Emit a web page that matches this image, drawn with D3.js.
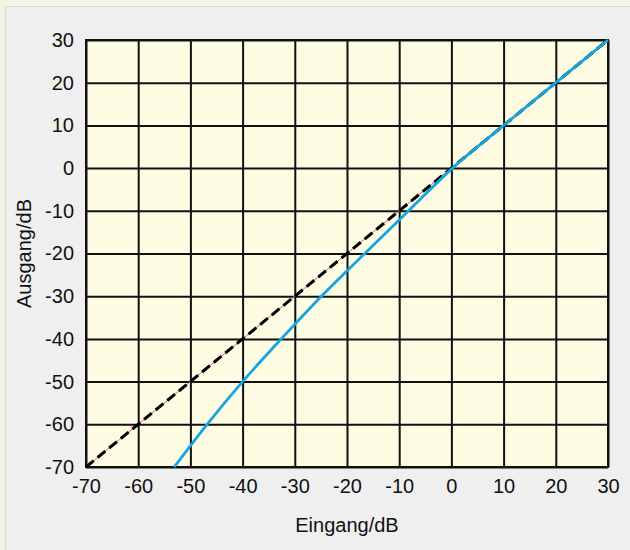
<!DOCTYPE html>
<html>
<head>
<meta charset="utf-8">
<script src="https://cdn.jsdelivr.net/npm/d3@7"></script>
<style>
  body { margin: 0; background: #f1f5e6; }
  svg { display: block; }
</style>
</head>
<body>
<script>
// y = x reference line and the blue transfer curve (input dB -> output dB)
const refInput = [-70, 30];
const curveInput = [-53.1, -46.8, -40, -32.6, -24.9, -16.6, -8.2, 0.2, 10, 20, 30];
const curveOutput = [-70, -60, -50, -40, -30, -20, -10, 0, 10, 20, 30];
const xTicks = [-70, -60, -50, -40, -30, -20, -10, 0, 10, 20, 30];
const yTicks = [-70, -60, -50, -40, -30, -20, -10, 0, 10, 20, 30];

const W = 630, H = 550;
const margin = { top: 40, right: 22, bottom: 83, left: 86 };
const width = W - margin.left - margin.right;
const height = H - margin.top - margin.bottom;

const svg = d3.select("body").append("svg")
  .attr("width", W)
  .attr("height", H);

// panel behind the chart
svg.append("rect")
  .attr("x", 5.5).attr("y", 6.5)
  .attr("width", W).attr("height", H)
  .attr("fill", "#efefef")
  .attr("stroke", "#e8d2d2");

const g = svg.append("g")
  .attr("transform", `translate(${margin.left},${margin.top})`);

const x = d3.scaleLinear().domain([-70, 30]).range([0, width]);
const y = d3.scaleLinear().domain([-70, 30]).range([height, 0]);

g.append("rect")
  .attr("width", width).attr("height", height)
  .attr("fill", "#fdfbe2");

const font = "Liberation Sans, Arial, Helvetica, sans-serif";
const fmt = d => String(d);

const xAxis = g.append("g")
  .attr("transform", `translate(0,${height})`)
  .call(d3.axisBottom(x).tickValues(xTicks).tickFormat(fmt)
    .tickSizeInner(-height).tickSizeOuter(0).tickPadding(11.5));
const yAxis = g.append("g")
  .call(d3.axisLeft(y).tickValues(yTicks).tickFormat(fmt)
    .tickSizeInner(-width).tickSizeOuter(0).tickPadding(12));

[xAxis, yAxis].forEach(a => {
  a.select(".domain").remove();
  a.selectAll(".tick line").attr("stroke", "#111").attr("stroke-width", 2);
  a.selectAll(".tick text")
    .attr("fill", "#111")
    .style("font-family", font)
    .style("font-size", "20px");
});

g.append("rect")
  .attr("width", width).attr("height", height)
  .attr("fill", "none")
  .attr("stroke", "#111")
  .attr("stroke-width", 2);

// reference line: thin pink under black dashes
const ref = refInput.map(v => [v, v]);
const line = d3.line().x(d => x(d[0])).y(d => y(d[1]));

g.append("path")
  .datum(ref)
  .attr("fill", "none")
  .attr("stroke", "#e0559a")
  .attr("stroke-width", 1)
  .attr("d", line);

g.append("path")
  .datum(ref)
  .attr("fill", "none")
  .attr("stroke", "#000")
  .attr("stroke-width", 3)
  .attr("stroke-dasharray", "10,5")
  .attr("d", line);

const curve = curveInput.map((v, i) => [v, curveOutput[i]]);
g.append("path")
  .datum(curve)
  .attr("fill", "none")
  .attr("stroke", "#15a5e0")
  .attr("stroke-width", 2.8)
  .attr("d", line.curve(d3.curveMonotoneX));

svg.append("text")
  .attr("x", margin.left + width / 2)
  .attr("y", 532)
  .attr("text-anchor", "middle")
  .style("font-family", font)
  .style("font-size", "20px")
  .attr("fill", "#111")
  .text("Eingang/dB");

svg.append("text")
  .attr("transform", `translate(31,${margin.top + height / 2}) rotate(-90)`)
  .attr("text-anchor", "middle")
  .style("font-family", font)
  .style("font-size", "20px")
  .attr("fill", "#111")
  .text("Ausgang/dB");
</script>
</body>
</html>
